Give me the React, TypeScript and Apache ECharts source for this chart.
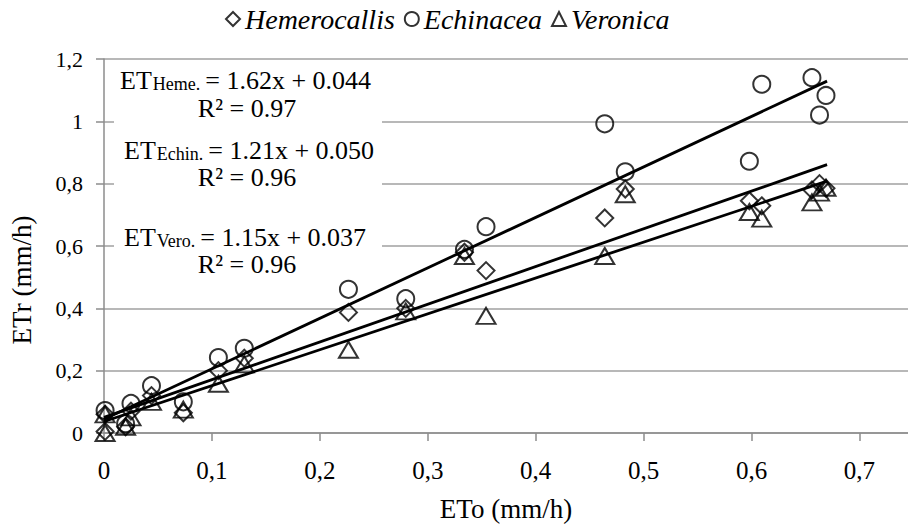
import React, { useEffect, useRef } from "react";
import * as echarts from "echarts";

const xTickLabels = ["0", "0,1", "0,2", "0,3", "0,4", "0,5", "0,6", "0,7"];
const yTickLabels = ["0", "0,2", "0,4", "0,6", "0,8", "1", "1,2"];

const seriesNames = ["Hemerocallis", "Echinacea", "Veronica"];

const hemeValues: [number, number][] = [
  [0.001, 0.005], [0.001, 0.06], [0.02, 0.02], [0.025, 0.07], [0.044, 0.12],
  [0.0735, 0.065], [0.106, 0.2], [0.13, 0.24], [0.2265, 0.387], [0.2796, 0.4],
  [0.334, 0.58], [0.354, 0.521], [0.464, 0.69], [0.483, 0.783], [0.598, 0.745],
  [0.6095, 0.729], [0.656, 0.78], [0.663, 0.8], [0.669, 0.785],
];
const echinValues: [number, number][] = [
  [0.001, 0.072], [0.02, 0.03], [0.025, 0.095], [0.044, 0.152], [0.0735, 0.1],
  [0.106, 0.242], [0.13, 0.272], [0.2265, 0.461], [0.2796, 0.431], [0.334, 0.589],
  [0.354, 0.662], [0.464, 0.992], [0.483, 0.838], [0.598, 0.872], [0.6095, 1.119],
  [0.656, 1.14], [0.663, 1.02], [0.669, 1.083],
];
const veroValues: [number, number][] = [
  [0.001, 0.06], [0.001, 0.0], [0.02, 0.02], [0.025, 0.05], [0.044, 0.1],
  [0.0735, 0.075], [0.106, 0.158], [0.13, 0.22], [0.2265, 0.267], [0.2796, 0.39],
  [0.334, 0.568], [0.354, 0.376], [0.464, 0.568], [0.483, 0.766], [0.598, 0.709],
  [0.6095, 0.688], [0.656, 0.74], [0.663, 0.771], [0.669, 0.787],
];

// trend-line end points
const fitTop: [number, number][] = [[0, 0.044], [0.67, 1.129]];
const fitMid: [number, number][] = [[0, 0.05], [0.67, 0.861]];
const fitLow: [number, number][] = [[0, 0.037], [0.67, 0.808]];

const equations = [
  { sub: "Heme.", rest: "= 1.62x + 0.044", r2: "R² = 0.97" },
  { sub: "Echin.", rest: "= 1.21x + 0.050", r2: "R² = 0.96" },
  { sub: "Vero.", rest: "= 1.15x + 0.037", r2: "R² = 0.96" },
];

const SERIF = "Liberation Serif";

export default function App() {
  const ref = useRef<HTMLDivElement>(null);
  useEffect(() => {
    document.body.style.margin = "0";
    if (!ref.current) return;
    const chart = echarts.init(ref.current, undefined, { renderer: "svg" });

    const markerStyle = {
      color: "rgba(255,255,255,0)",
      borderColor: "#000",
      borderWidth: 2,
    };
    const lineSeries = (data: [number, number][]) => ({
      type: "line",
      data,
      symbol: "none",
      silent: true,
      lineStyle: { color: "#000", width: 2.8 },
      z: 3,
    });

    const eqPos = [
      { x: 120, y: 81, rx: 247, ry: 108 },
      { x: 124, y: 151, rx: 247, ry: 177 },
      { x: 124, y: 238, rx: 247, ry: 264 },
    ];
    const eqGraphics: any[] = [];
    equations.forEach((eq, i) => {
      const p = eqPos[i];
      eqGraphics.push({
        type: "text",
        x: p.x,
        y: p.y,
        z: 10,
        style: {
          text: `{a|ET}{b|${eq.sub}}{a|${eq.rest}}`,
          verticalAlign: "middle",
          rich: {
            a: { fontFamily: SERIF, fontSize: 26, fill: "#000", verticalAlign: "bottom", lineHeight: 24 },
            b: { fontFamily: SERIF, fontSize: 18, fill: "#000", verticalAlign: "bottom", lineHeight: 16, padding: [0, 5, 0, 1] },
          },
        },
      });
      eqGraphics.push({
        type: "text",
        x: p.rx,
        y: p.ry,
        z: 10,
        style: {
          text: eq.r2,
          fontFamily: SERIF,
          fontSize: 26,
          lineHeight: 22,
          fill: "#000",
          align: "center",
          verticalAlign: "middle",
        },
      });
    });

    chart.setOption({
      animation: false,
      backgroundColor: "#fff",
      textStyle: { fontFamily: SERIF },
      grid: { left: 104, right: 0, top: 59, bottom: 83, containLabel: false },
      legend: {
        data: [
          { name: seriesNames[0], icon: "diamond" },
          { name: seriesNames[1], icon: "circle" },
          { name: seriesNames[2], icon: "triangle" },
        ],
        left: 220,
        top: 0,
        itemWidth: 14,
        itemHeight: 14,
        itemGap: 9,
        textStyle: { fontFamily: SERIF, fontStyle: "italic", fontSize: 28, color: "#000" },
      },
      xAxis: {
        type: "value",
        min: 0,
        max: 0.745,
        interval: 0.1,
        name: "ETo (mm/h)",
        nameLocation: "middle",
        nameGap: 62,
        nameTextStyle: { fontFamily: SERIF, fontSize: 27, color: "#000" },
        axisLine: { show: true, lineStyle: { color: "#8c8c8c", width: 1.5 } },
        axisTick: { show: true, inside: false, length: 8, lineStyle: { color: "#8c8c8c", width: 1.5 } },
        splitLine: { show: false },
        axisLabel: {
          margin: 25,
          fontFamily: SERIF,
          fontSize: 25,
          color: "#000",
          showMaxLabel: false,
          formatter: (v: number) => {
            const i = Math.round(v * 10);
            return Math.abs(v * 10 - i) < 1e-6 ? xTickLabels[i] ?? "" : "";
          },
        },
      },
      yAxis: {
        type: "value",
        min: 0,
        max: 1.2,
        interval: 0.2,
        axisLine: { show: true, lineStyle: { color: "#8c8c8c", width: 1.5 } },
        axisTick: { show: true, inside: false, length: 8, lineStyle: { color: "#8c8c8c", width: 1.5 } },
        splitLine: { show: true, lineStyle: { color: "#a0a0a0", width: 1.5 } },
        axisLabel: {
          margin: 21,
          fontFamily: SERIF,
          fontSize: 22,
          color: "#000",
          formatter: (v: number) => yTickLabels[Math.round(v * 5)] ?? "",
        },
      },
      graphic: [
        {
          type: "rect",
          shape: { x: 114, y: 62, width: 268, height: 220 },
          style: { fill: "#fff" },
          z: 1,
        },
        ...eqGraphics,
        {
          type: "text",
          x: 22,
          y: 280,
          rotation: Math.PI / 2,
          z: 10,
          style: {
            text: "ETr (mm/h)",
            fontFamily: SERIF,
            fontSize: 27,
            fill: "#000",
            align: "center",
            verticalAlign: "middle",
          },
        },
      ],
      series: [
        {
          name: seriesNames[0],
          type: "scatter",
          symbol: "diamond",
          symbolSize: 17,
          data: hemeValues,
          itemStyle: markerStyle,
          z: 4,
        },
        {
          name: seriesNames[1],
          type: "scatter",
          symbol: "circle",
          symbolSize: 17,
          data: echinValues,
          itemStyle: markerStyle,
          z: 4,
        },
        {
          name: seriesNames[2],
          type: "scatter",
          symbol: "triangle",
          symbolSize: [19, 16],
          data: veroValues,
          itemStyle: markerStyle,
          z: 4,
        },
        lineSeries(fitTop),
        lineSeries(fitMid),
        lineSeries(fitLow),
      ],
    });
    return () => chart.dispose();
  }, []);
  return <div ref={ref} style={{ width: 908, height: 527 }} />;
}
